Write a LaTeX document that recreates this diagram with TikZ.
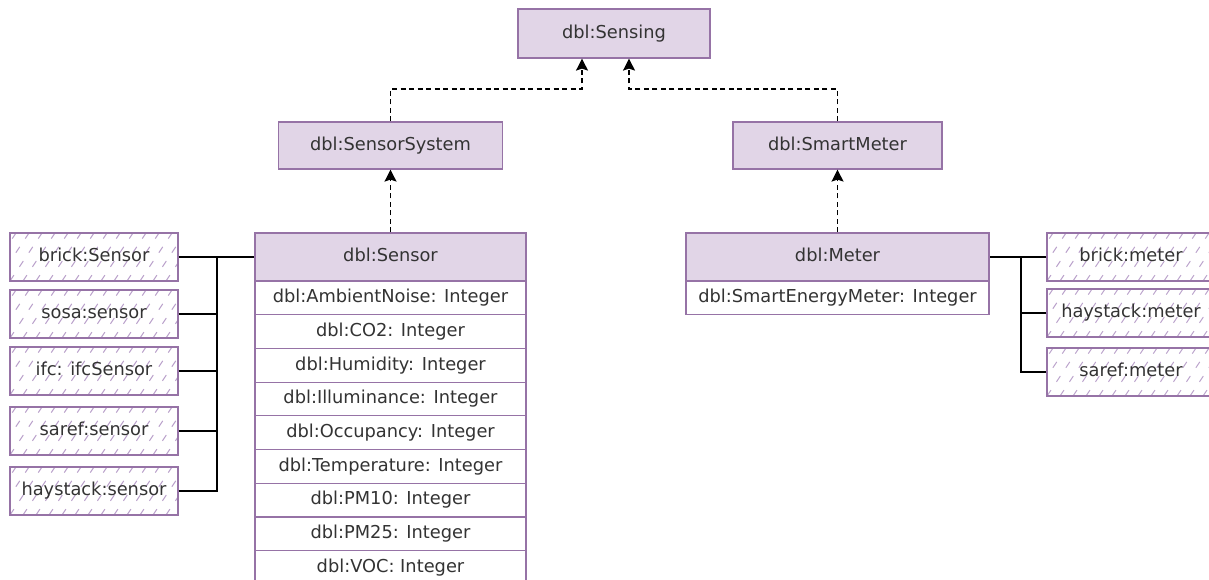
\documentclass[tikz,border=0pt]{standalone}
\usepackage{fontspec}
\setmainfont{DejaVu Sans}
\usetikzlibrary{arrows.meta}
\definecolor{umlfill}{HTML}{E1D5E7}
\definecolor{umlstroke}{HTML}{9673A6}
\definecolor{hatchcol}{HTML}{BBA3CC}
\definecolor{txt}{HTML}{333333}
\begin{document}
\begin{tikzpicture}[x=1pt,y=-1pt,
  base/.style={draw=umlstroke, line width=1.2pt, inner sep=0pt, text=txt,
    font=\fontsize{17.8}{20}\selectfont, text height=13.2pt, text depth=3.6pt},
  cls/.style={base, fill=umlfill, minimum height=48pt},
  attr/.style={base, fill=white, minimum width=271pt, minimum height=33.7pt},
  ext/.style={base, fill=white, minimum width=168pt, minimum height=48pt,
    path picture={
      \foreach \k in {-4,...,14}{
        \draw[hatchcol, line width=1pt, dash pattern=on 7pt off 10pt]
          ([xshift=\k*13pt]path picture bounding box.south west) -- ++(32pt,48pt);
      }}},
  dep/.style={line width=1.4pt, dash pattern=on 5pt off 3.5pt,
    -{Stealth[length=12pt, width=12pt, inset=2pt]}},
  link/.style={line width=1.5pt, black}
]
\useasboundingbox (0,0) rectangle (1209,580);
\clip (0,0) rectangle (1209,580);

% top classes
\node[cls, minimum width=192pt, minimum height=49pt] (sensing) at (614,33.5) {dbl:Sensing};
\node[cls, minimum width=224pt, minimum height=47pt] (ss) at (390.5,145.5) {dbl:SensorSystem};
\node[cls, minimum width=209pt, minimum height=47pt] (sm) at (837.5,145.5) {dbl:SmartMeter};

% sensor class
\node[cls, minimum width=271pt] (sensor) at (390.5,257) {dbl:Sensor};
\node[attr] (a1) at (390.5,297.85) {dbl:AmbientNoise: Integer};
\node[attr] (a2) at (390.5,331.55) {dbl:CO2: Integer};
\node[attr] (a3) at (390.5,365.25) {dbl:Humidity: Integer};
\node[attr] (a4) at (390.5,398.95) {dbl:Illuminance: Integer};
\node[attr] (a5) at (390.5,432.65) {dbl:Occupancy: Integer};
\node[attr] (a6) at (390.5,466.35) {dbl:Temperature: Integer};
\node[attr] (a7) at (390.5,500.05) {dbl:PM10: Integer};
\node[attr] (a8) at (390.5,533.75) {dbl:PM25: Integer};
\node[attr] (a9) at (390.5,567.45) {dbl:VOC: Integer};

% meter class
\node[cls, minimum width=303pt] (meter) at (837.5,257) {dbl:Meter};
\node[attr, minimum width=303pt] (m1) at (837.5,298) {dbl:SmartEnergyMeter: Integer};

% external sensor classes
\node[ext] (bS) at (94,257) {brick:Sensor};
\node[ext] (sS) at (94,314) {sosa:sensor};
\node[ext] (iS) at (94,371) {ifc: ifcSensor};
\node[ext] (rS) at (94,431) {saref:sensor};
\node[ext] (hS) at (94,491) {haystack:sensor};

% external meter classes
\node[ext] (bM) at (1131,257) {brick:meter};
\node[ext] (hM) at (1131,313) {haystack:meter};
\node[ext] (rM) at (1131,372) {saref:meter};

% dependency arrows
\coordinate (j1) at (582,89);
\coordinate (j2) at (629,89);
\draw[dep] (sensor.north) -- (ss.south);
\draw[dep] (meter.north) -- (sm.south);
\draw[dep] (ss.north) |- (j1) -- (j1 |- sensing.south);
\draw[dep] (sm.north) |- (j2) -- (j2 |- sensing.south);

% equivalence links
\coordinate (lbus) at (217,257);
\coordinate (rbus) at (1021,257);
\draw[link] (bS.east) -- (sensor.west);
\draw[link] (sS.east) -| (lbus) -- (sensor.west);
\draw[link] (iS.east) -| (lbus) -- (sensor.west);
\draw[link] (rS.east) -| (lbus) -- (sensor.west);
\draw[link] (hS.east) -| (lbus) -- (sensor.west);
\draw[link] (bM.west) -- (meter.east);
\draw[link] (hM.west) -| (rbus) -- (meter.east);
\draw[link] (rM.west) -| (rbus) -- (meter.east);
\end{tikzpicture}
\end{document}
